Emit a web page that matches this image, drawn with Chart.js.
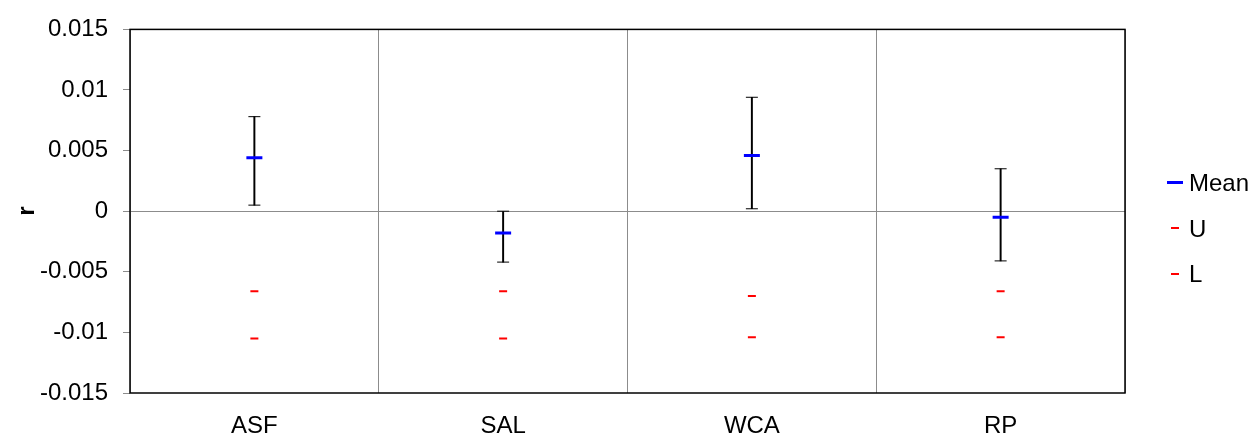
<!DOCTYPE html>
<html>
<head>
<meta charset="utf-8">
<script src="https://cdn.jsdelivr.net/npm/chart.js@4.4.1/dist/chart.umd.min.js"></script>
<style>
    html, body { margin: 0; padding: 0; background: #fff; }
    #wrap { position: relative; width: 1258px; height: 436px; }
    #legend {
        position: absolute; left: 1160px; top: 160px;
        font: 24px "Liberation Sans", Arial, sans-serif; color: #000;
    }
    #legend .row { position: relative; height: 45.5px; line-height: 45.5px; padding-left: 29px; }
    #legend .mark { position: absolute; top: 50%; }
</style>
</head>
<body>
<div id="wrap">
    <canvas id="chart" width="1258" height="436"></canvas>
    <div id="legend"></div>
</div>
<script>
// Kategori dan nilai per kategori
const categories = ['ASF', 'SAL', 'WCA', 'RP'];
const meanValues = [0.0044, -0.0018, 0.0046, -0.0005];
const highValues = [0.0078, 0.0000, 0.0094, 0.0035];
const lowValues = [0.0005, -0.0042, 0.0002, -0.0041];
const uValues = [-0.0066, -0.0066, -0.0070, -0.0066];
const lValues = [-0.0105, -0.0105, -0.0104, -0.0104];
const yTicks = [-0.015, -0.01, -0.005, 0, 0.005, 0.01, 0.015];

const FONT = '"Liberation Sans", Arial, sans-serif';

// Kotak hitam di sekeliling area plot
const frame = {
    id: 'frame',
    afterDraw(chart) {
        const {ctx, chartArea: a} = chart;
        ctx.save();
        ctx.strokeStyle = '#000';
        ctx.lineWidth = 1.5;
        ctx.strokeRect(a.left, a.top, a.right - a.left, a.bottom - a.top);
        ctx.restore();
    }
};

const marker = (color, radius, width, order) => ({
    type: 'line',
    showLine: false,
    pointStyle: 'line',
    pointRadius: radius,
    pointBorderWidth: width,
    pointBorderColor: color,
    borderColor: color,
    order
});

const datasets = [
    {
        type: 'bar',
        label: 'range',
        data: lowValues.map((v, i) => [v, highValues[i]]),
        backgroundColor: '#000',
        barThickness: 1.3,
        order: 3
    },
    { ...marker('#000', 6, 1, 2), label: 'high', data: highValues },
    { ...marker('#000', 6, 1, 2), label: 'low', data: lowValues },
    { ...marker('#0000ff', 8, 3, 0), label: 'Mean', data: meanValues },
    { ...marker('#ff0000', 4, 2, 1), label: 'U', data: uValues },
    { ...marker('#ff0000', 4, 2, 1), label: 'L', data: lValues }
];

const chart = new Chart(document.getElementById('chart'), {
    data: { labels: categories, datasets },
    plugins: [frame],
    options: {
        responsive: false,
        animation: false,
        events: [],
        layout: { padding: { top: 23, right: 133, bottom: 0, left: 0 } },
        plugins: { legend: { display: false }, tooltip: { enabled: false } },
        scales: {
            x: {
                offset: true,
                grid: { offset: true, color: '#8c8c8c', lineWidth: 1, drawTicks: false },
                border: { display: false },
                ticks: { color: '#000', font: { family: FONT, size: 24 }, padding: 19 },
                afterFit: s => { s.height = 43; }
            },
            y: {
                min: -0.015,
                max: 0.015,
                afterBuildTicks: s => { s.ticks = yTicks.map(v => ({ value: v })); },
                grid: {
                    color: c => (c.tick && c.tick.value === 0 ? '#8c8c8c' : 'rgba(0,0,0,0)'),
                    tickColor: '#8c8c8c',
                    tickLength: 7
                },
                border: { display: false },
                ticks: {
                    color: '#000',
                    font: { family: FONT, size: 24 },
                    padding: 15,
                    callback: v => String(v)
                },
                title: {
                    display: true,
                    text: 'r',
                    color: '#000',
                    font: { family: FONT, size: 24, weight: 'bold' },
                    padding: { top: 13, bottom: 0 }
                },
                afterFit: s => { s.width = 130; }
            }
        }
    }
});

// Legenda HTML untuk Mean, U, L
const legendItems = [
    { label: 'Mean', color: '#0000ff', w: 16, h: 3 },
    { label: 'U', color: '#ff0000', w: 8, h: 2 },
    { label: 'L', color: '#ff0000', w: 8, h: 2 }
];
const legendEl = document.getElementById('legend');
legendItems.forEach(item => {
    const row = document.createElement('div');
    row.className = 'row';
    const mark = document.createElement('span');
    mark.className = 'mark';
    mark.style.cssText = `left:${15 - item.w / 2}px;width:${item.w}px;height:${item.h}px;margin-top:${-item.h / 2}px;background:${item.color}`;
    row.appendChild(mark);
    row.appendChild(document.createTextNode(item.label));
    legendEl.appendChild(row);
});
</script>
</body>
</html>
